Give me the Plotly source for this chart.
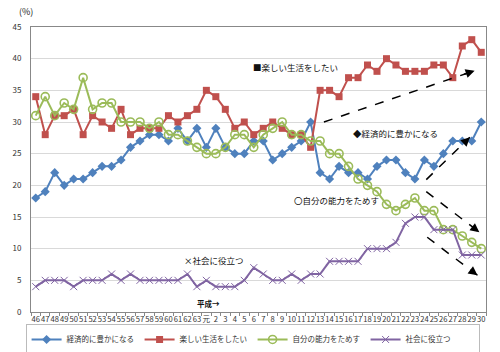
import plotly.graph_objects as go

labels = [str(v) for v in range(46, 64)] + ["元"] + [str(v) for v in range(2, 31)]

keizai = [18, 19, 22, 20, 21, 21, 22, 23, 23, 24,
          26, 27, 28, 28, 27, 29, 27, 29,
          26,
          29, 26, 25, 25, 27, 27, 24, 25, 26, 27, 30,
          22, 21, 23, 22, 22, 21, 23, 24, 24, 22,
          21, 24, 23, 25, 27, 27, 27, 30]
tanoshii = [34, 28, 31, 31, 32, 28, 31, 30, 29, 32,
            28, 29, 29, 29, 31, 30, 31, 32,
            35,
            34, 32, 29, 30, 28, 29, 30, 29, 28, 28, 26,
            35, 35, 34, 37, 37, 39, 38, 40, 39, 38,
            38, 38, 39, 39, 37, 42, 43, 41]
nouryoku = [31, 34, 31, 33, 32, 37, 32, 33, 33, 30,
            30, 30, 29, 30, 28, 28, 27, 26,
            25,
            25, 26, 28, 28, 26, 28, 29, 30, 28, 28, 27,
            27, 25, 25, 23, 21, 20, 19, 17, 16, 17,
            18, 16, 16, 13, 13, 12, 11, 10]
shakai = [4, 5, 5, 5, 4, 5, 5, 5, 6, 5,
          6, 5, 5, 5, 5, 5, 6, 4,
          5,
          4, 4, 4, 5, 7, 6, 5, 5, 6, 5, 6,
          6, 8, 8, 8, 8, 10, 10, 10, 11, 14,
          15, 15, 13, 13, 13, 9, 9, 9]

series_names = ["経済的に豊かになる", "楽しい生活をしたい", "自分の能力をためす", "社会に役立つ"]
xs = list(range(len(labels)))

FONT = "Noto Sans CJK JP"
fig = go.Figure()
fig.add_trace(go.Scatter(x=xs, y=keizai, name=series_names[0], mode="lines+markers",
                         line=dict(color="#4F81BD", width=2),
                         marker=dict(symbol="diamond", size=7, color="#4F81BD")))
fig.add_trace(go.Scatter(x=xs, y=tanoshii, name=series_names[1], mode="lines+markers",
                         line=dict(color="#C0504D", width=2),
                         marker=dict(symbol="square", size=7, color="#C0504D")))
fig.add_trace(go.Scatter(x=xs, y=nouryoku, name=series_names[2], mode="lines+markers",
                         line=dict(color="#9BBB59", width=2),
                         marker=dict(symbol="circle-open", size=8, color="#9BBB59",
                                     line=dict(width=1.6, color="#9BBB59"))))
fig.add_trace(go.Scatter(x=xs, y=shakai, name=series_names[3], mode="lines+markers",
                         line=dict(color="#8064A2", width=2),
                         marker=dict(symbol="x-thin-open", size=7, color="#8064A2",
                                     line=dict(width=1, color="#8064A2"))))

# dashed trend arrows (data coords)
arrows = [((30.4, 30.0), (46.3, 38.1)),
          ((41.2, 20.9), (45.8, 27.6)),
          ((41.2, 19.0), (46.8, 12.6)),
          ((41.3, 11.8), (46.6, 5.8))]
shapes = []
annotations = []
for (x0, y0), (x1, y1) in arrows:
    shapes.append(dict(type="line", xref="x", yref="y", x0=x0, y0=y0, x1=x1, y1=y1,
                       line=dict(color="black", width=1.5, dash="dash")))
    annotations.append(dict(x=x1, y=y1, ax=x1 - (x1 - x0) * 0.08, ay=y1 - (y1 - y0) * 0.08,
                            xref="x", yref="y", axref="x", ayref="y", text="",
                            showarrow=True, arrowhead=2, arrowsize=1.2, arrowwidth=1.5,
                            arrowcolor="black"))

texts = [("■楽しい生活をしたい", 27.4, 38.7, 8.5),
         ("◆経済的に豊かになる", 38.0, 28.3, 8.5),
         ("〇自分の能力をためす", 31.7, 17.7, 8.5),
         ("×社会に役立つ", 18.8, 8.2, 8.5),
         ("<b>平成→</b>", 18.2, 1.3, 7.5)]
for t, x, y, s in texts:
    annotations.append(dict(x=x, y=y, xref="x", yref="y", text=t, showarrow=False,
                            font=dict(family=FONT, size=s, color="#111")))
annotations.append(dict(x=-0.03, y=1.085, xref="paper", yref="paper", text="(%)",
                        showarrow=False, font=dict(family=FONT, size=9, color="#222")))

fig.update_layout(
    width=500, height=352,
    margin=dict(l=31, r=14, t=27, b=40, autoexpand=False),
    paper_bgcolor="white", plot_bgcolor="white",
    font=dict(family=FONT, size=8, color="#333"),
    showlegend=True,
    legend=dict(orientation="h", x=0.487, xanchor="center", y=-0.042, yanchor="top",
                bordercolor="#BBBBBB", borderwidth=1, font=dict(family=FONT, size=7.5, color="#333"),
                itemwidth=30, entrywidth=68, entrywidthmode="pixels", tracegroupgap=0),
    shapes=shapes, annotations=annotations,
)
fig.update_xaxes(range=[-0.5, len(labels) - 0.5], tickmode="array", tickvals=xs, ticktext=labels,
                 tickangle=0, showgrid=False, showline=True, linecolor="#888", mirror=True,
                 ticks="", tickfont=dict(family=FONT, size=7.6, color="#333"),
                 minor=dict(tick0=0.5, dtick=1, ticks="outside", ticklen=3, tickcolor="#888"),
                 zeroline=False)
fig.update_yaxes(range=[0, 45], dtick=5, showgrid=True, gridcolor="#D9D9D9", gridwidth=1,
                 showline=True, linecolor="#888", mirror=True, ticks="", zeroline=False,
                 ticklabelstandoff=7, tickfont=dict(family=FONT, size=8, color="#333"))

fig.write_html("out.html")
